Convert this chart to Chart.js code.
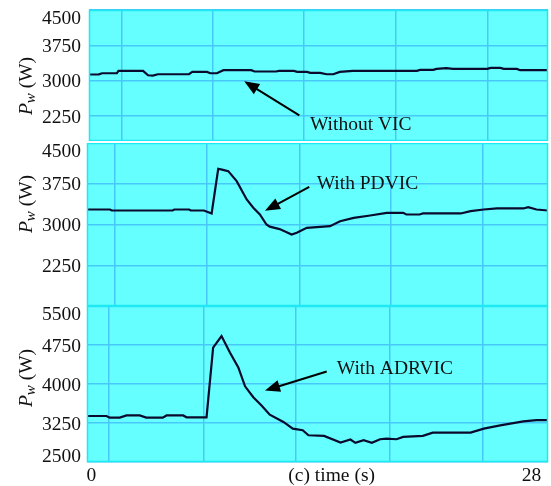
<!DOCTYPE html>
<html>
<head>
<meta charset="utf-8">
<script src="https://cdn.jsdelivr.net/npm/chart.js@4.4.1/dist/chart.umd.min.js"></script>
<style>
  html, body { margin: 0; padding: 0; background: #fff; }
  #wrap { position: relative; width: 551px; height: 486px; }
  canvas { position: absolute; left: 0; }
</style>
</head>
<body>
<div id="wrap">
  <canvas id="c1" width="551" height="141" style="top:0px"></canvas>
  <canvas id="c2" width="551" height="163" style="top:143px"></canvas>
  <canvas id="c3" width="551" height="180" style="top:306px"></canvas>
</div>
<script>
// Without VIC
const time1 = [0, 0.6, 0.8, 1.7, 1.8, 3.3, 3.6, 3.9, 4.2, 6.1, 6.3, 7.2, 7.4, 7.8, 8.2, 9.9, 10.1, 11.4, 11.6, 12.5,
  12.7, 13.3, 13.5, 14.1, 14.5, 14.9, 15.3, 16.1, 20.0, 20.2, 21.0, 21.2, 21.8, 22.2, 24.3, 24.5, 25.1, 25.3, 26.1, 26.3, 28];
const power1 = [3131, 3135, 3158, 3160, 3208, 3208, 3115, 3109, 3137, 3137, 3186, 3186, 3158, 3158, 3222, 3222, 3195, 3195, 3208, 3208,
  3186, 3186, 3165, 3165, 3137, 3137, 3186, 3208, 3208, 3229, 3229, 3250, 3265, 3250, 3250, 3271, 3271, 3250, 3250, 3222, 3222];

// With PDVIC
const time2 = [0, 1.4, 1.5, 5.2, 5.3, 6.2, 6.3, 7.1, 7.57, 7.97, 8.2, 8.58, 9.09, 9.7, 10.1, 10.5, 10.9, 11.1, 11.7, 12.43,
  12.74, 13.35, 14.76, 15.37, 16.2, 17.2, 18.2, 19.2, 19.4, 20.2, 20.4, 22.7, 23.3, 24.1, 24.9, 26.5, 26.8, 27.3, 28];
const power2 = [3276, 3276, 3258, 3258, 3276, 3276, 3258, 3258, 3203, 4026, 4010, 3982, 3798, 3461, 3308, 3184, 3000, 2960, 2915, 2816,
  2847, 2939, 2969, 3061, 3123, 3166, 3215, 3215, 3184, 3184, 3203, 3203, 3246, 3276, 3295, 3295, 3319, 3276, 3258];

// With ADRVIC
const time3 = [0, 1.18, 1.38, 1.99, 2.4, 3.2, 3.6, 4.6, 4.83, 5.84, 6.05, 7.26, 7.66, 8.17, 8.68, 9.19, 9.6, 10.1, 10.6, 11.1,
  11.93, 12.5, 13.1, 13.45, 14.4, 15.4, 16.0, 16.3, 16.8, 17.3, 17.8, 18.2, 18.8, 19.2, 20.4, 21.0, 23.3, 24.1, 25.1, 26.5, 27.3, 28];
const power3 = [3385, 3385, 3353, 3353, 3395, 3395, 3353, 3353, 3395, 3395, 3360, 3360, 4700, 4922, 4605, 4319, 3956, 3746, 3586, 3409,
  3270, 3142, 3110, 3014, 3002, 2875, 2932, 2868, 2919, 2868, 2938, 2951, 2938, 2983, 3002, 3065, 3065, 3142, 3205, 3282, 3307, 3307];

// tick labels
const yTicks1 = [4500, 3750, 3000, 2250];
const yTicks2 = [4500, 3750, 3000, 2250];
const yTicks3 = [5500, 4750, 4000, 3250, 2500];
const gridTimes1 = [1.97, 7.52, 13.13, 18.71, 24.30];
const gridTimes2 = [1.69, 7.30, 12.91, 18.43, 24.02];
const gridTimes3 = [1.34, 7.07, 12.69, 18.37, 24.02];
const xLabels = ['0', '(c) time (s)', '28'];
const xLabelTimes = [0.27, 14.86, 27.0];

const FONT = '19.5px "Liberation Serif", "Times New Roman", serif';
const BG = 'rgb(102,255,255)';
const GRID = 'rgb(70,200,248)';
const BORDER = 'rgb(30,232,242)';
const LINE = '#0a0a2c';
const TEXT = '#111';

function drawArrow(ctx, x0, y0, x1, y1) {
    const ang = Math.atan2(y1 - y0, x1 - x0);
    const len = 15, half = 6;
    const bx = x1 - Math.cos(ang) * len, by = y1 - Math.sin(ang) * len;
    ctx.strokeStyle = '#000';
    ctx.lineWidth = 2;
    ctx.beginPath();
    ctx.moveTo(x0, y0);
    ctx.lineTo(bx + Math.cos(ang) * 2, by + Math.sin(ang) * 2);
    ctx.stroke();
    ctx.fillStyle = '#000';
    ctx.beginPath();
    ctx.moveTo(x1, y1);
    ctx.lineTo(bx - Math.sin(ang) * half, by + Math.cos(ang) * half);
    ctx.lineTo(bx + Math.sin(ang) * half, by - Math.cos(ang) * half);
    ctx.closePath();
    ctx.fill();
}

function makeDeco(cfg) {
    return {
        id: 'panelDeco',
        beforeDraw(chart) {
            const { ctx, chartArea: a } = chart;
            ctx.save();
            ctx.fillStyle = BG;
            ctx.fillRect(a.left, a.top, a.right - a.left, a.bottom - a.top);
            ctx.restore();
        },
        afterDraw(chart) {
            const { ctx, chartArea: a, scales } = chart;
            const x = scales.x, y = scales.y;
            ctx.save();
            // 枠
            ctx.strokeStyle = BORDER;
            ctx.lineWidth = 1.5;
            ctx.strokeRect(a.left + 0.5, a.top + 0.5, a.right - a.left - 1, a.bottom - a.top - 1);

            // y ticks (端のラベルは内側に寄せる)
            ctx.font = FONT;
            ctx.fillStyle = TEXT;
            ctx.textAlign = 'right';
            ctx.textBaseline = 'middle';
            cfg.yTicks.forEach(v => {
                let py = y.getPixelForValue(v) + 1.5;
                py = Math.min(Math.max(py, a.top + 9), a.bottom - 5);
                ctx.fillText(String(v), 81, py);
            });

            // y title: P_w (W)
            ctx.save();
            ctx.translate(31.5, cfg.titleY);
            ctx.rotate(-Math.PI / 2);
            ctx.textAlign = 'left';
            ctx.textBaseline = 'alphabetic';
            const fP = 'italic 19.5px "Liberation Serif", "Times New Roman", serif';
            const fw = 'italic 15px "Liberation Serif", "Times New Roman", serif';
            ctx.font = fP; const wP = ctx.measureText('P').width;
            ctx.font = fw; const ww = ctx.measureText('w').width;
            ctx.font = FONT; const wU = ctx.measureText(' (W)').width;
            let cx = -(wP + ww + wU) / 2;
            ctx.font = fP; ctx.fillText('P', cx, 0); cx += wP;
            ctx.font = fw; ctx.fillText('w', cx, 3); cx += ww;
            ctx.font = FONT; ctx.fillText(' (W)', cx, 0);
            ctx.restore();

            // annotation arrow + label
            const n = cfg.note;
            drawArrow(ctx,
                x.getPixelForValue(n.tail[0]), y.getPixelForValue(n.tail[1]),
                x.getPixelForValue(n.head[0]), y.getPixelForValue(n.head[1]));
            ctx.font = FONT;
            ctx.fillStyle = TEXT;
            ctx.textAlign = 'left';
            ctx.textBaseline = 'middle';
            ctx.fillText(n.text, x.getPixelForValue(n.at[0]), y.getPixelForValue(n.at[1]));
            ctx.restore();
        }
    };
}

function makePanel(id, cfg) {
    const scales = {
        x: {
            type: 'linear',
            min: 0,
            max: 28,
            afterBuildTicks: s => { s.ticks = cfg.gridTimes.map(v => ({ value: v })); },
            ticks: { display: false },
            grid: { color: GRID, lineWidth: 1.5, drawTicks: false },
            border: { display: false },
            afterFit: s => { s.height = 0; s.paddingLeft = 0; s.paddingRight = 0; }
        },
        y: {
            min: cfg.min,
            max: cfg.max,
            afterBuildTicks: s => { s.ticks = cfg.yTicks.map(v => ({ value: v })); },
            ticks: { display: false },
            grid: { color: GRID, lineWidth: 1.5, drawTicks: false },
            border: { display: false },
            afterFit: s => { s.width = cfg.yWidth; }
        }
    };
    if (cfg.showTime) {
        scales.xl = {
            type: 'linear',
            position: 'bottom',
            min: 0,
            max: 28,
            afterBuildTicks: s => { s.ticks = xLabelTimes.map(v => ({ value: v })); },
            ticks: {
                autoSkip: false,
                maxRotation: 0,
                padding: 2,
                color: TEXT,
                font: { family: '"Liberation Serif", "Times New Roman", serif', size: 19.5 },
                callback: (v, i) => xLabels[i]
            },
            grid: { display: false, drawTicks: false },
            border: { display: false },
            afterFit: s => { s.height = 24; s.paddingLeft = 0; s.paddingRight = 0; }
        };
    }

    return new Chart(document.getElementById(id), {
        type: 'line',
        data: {
            datasets: [{
                data: cfg.times.map((t, i) => ({ x: t, y: cfg.values[i] })),
                borderColor: LINE,
                borderWidth: 2.2,
                pointRadius: 0,
                tension: 0,
                fill: false
            }]
        },
        options: {
            responsive: false,
            animation: false,
            events: [],
            layout: { padding: { top: cfg.padTop, right: 3, bottom: 0, left: 0 } },
            plugins: { legend: { display: false }, tooltip: { enabled: false } },
            scales: scales
        },
        plugins: [makeDeco(cfg)]
    });
}

makePanel('c1', {
    times: time1, values: power1, min: 1720, max: 4500, yTicks: yTicks1, gridTimes: gridTimes1,
    yWidth: 89, padTop: 10, titleY: 86,
    note: { text: 'Without VIC', tail: [12.83, 2263], head: [9.47, 2987], at: [13.48, 2071] }
});
makePanel('c2', {
    times: time2, values: power2, min: 1500, max: 4500, yTicks: yTicks2, gridTimes: gridTimes2,
    yWidth: 87, padTop: 0, titleY: 61,
    note: { text: 'With PDVIC', tail: [13.5, 3691], head: [10.81, 3252], at: [13.95, 3752] }
});
makePanel('c3', {
    times: time3, values: power3, min: 2500, max: 5500, yTicks: yTicks3, gridTimes: gridTimes3,
    yWidth: 87, padTop: 0, titleY: 72, showTime: true,
    note: { text: 'With ADRVIC', tail: [14.56, 4240], head: [10.81, 3875], at: [15.17, 4292] }
});
</script>
</body>
</html>
